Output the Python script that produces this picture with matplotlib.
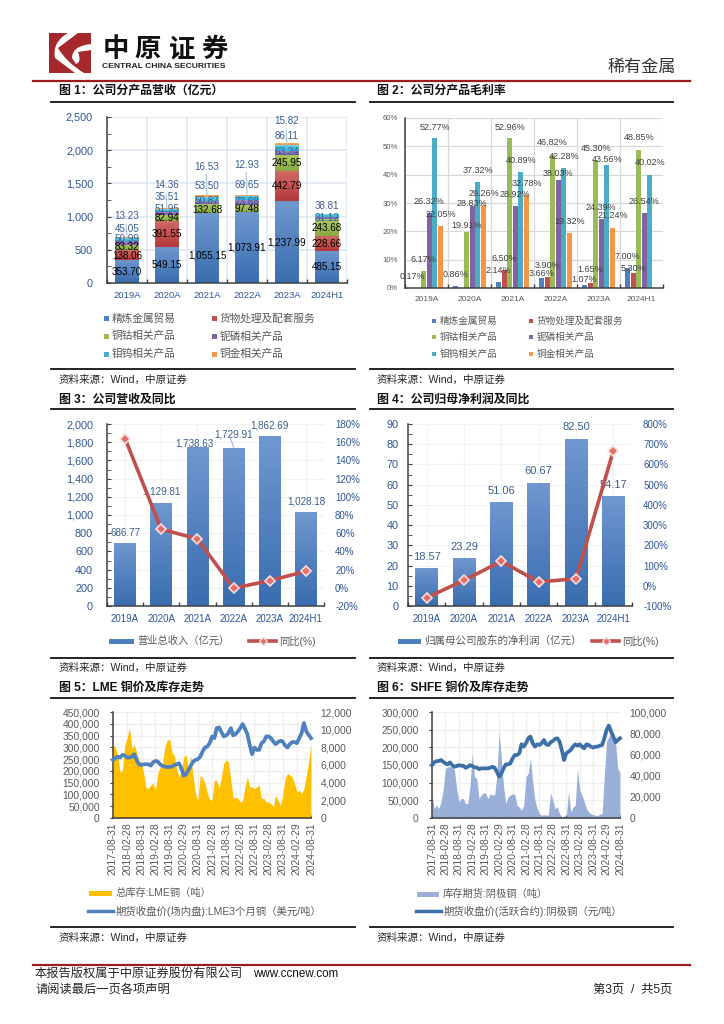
import numpy as np
import matplotlib
matplotlib.use('Agg')
import matplotlib.pyplot as plt
from matplotlib.colors import LinearSegmentedColormap
from matplotlib.patches import Rectangle, PathPatch
from matplotlib.path import Path
from matplotlib.ticker import MultipleLocator, StrMethodFormatter, FixedLocator

plt.rcParams['font.family'] = ['Liberation Sans', 'Noto Sans CJK SC']
plt.rcParams['axes.unicode_minus'] = False

W, H = 724, 1024

# ---- data ----
cats = ['2019A', '2020A', '2021A', '2022A', '2023A', '2024H1']
products = ['精炼金属贸易', '货物处理及配套服务', '铜钴相关产品', '铌磷相关产品', '钼钨相关产品', '铜金相关产品']

rev_trade = [353.70, 549.15, 1055.15, 1073.91, 1237.99, 485.15]
rev_service = [138.06, 391.55, 0, 0, 442.79, 228.66]
rev_cuco = [83.32, 82.94, 132.68, 97.48, 245.95, 243.68]
rev_nbp = [50.99, 51.95, 50.87, 73.68, 63.24, 31.12]
rev_mow = [45.05, 35.51, 53.50, 69.65, 86.11, 38.81]
rev_cuau = [13.23, 14.36, 16.53, 12.93, 15.82, 0]

gm_trade = [0.17, 0.86, 2.14, 3.66, 1.07, 7.00]
gm_service = [np.nan, np.nan, 6.50, 3.90, 1.65, 5.30]
gm_cuco = [6.17, 19.91, 52.96, 46.82, 45.30, 48.85]
gm_nbp = [26.32, 28.83, 28.92, 38.03, 24.39, 26.54]
gm_mow = [52.77, 37.32, 40.89, 42.28, 43.56, 40.02]
gm_cuau = [22.05, 29.26, 32.78, 19.32, 21.24, np.nan]

total_rev = [686.77, 1129.81, 1738.63, 1729.91, 1862.69, 1028.18]
total_rev_yoy = [164, 64.4, 53.8, -0.5, 7.9, 18.2]
net_profit = [18.57, 23.29, 51.06, 60.67, 82.50, 54.17]
net_profit_yoy = [-59, 27, 121, 19, 35, 668]

date_labels = ['2017-08-31', '2018-02-28', '2018-08-31', '2019-02-28', '2019-08-31',
               '2020-02-29', '2020-08-31', '2021-02-28', '2021-08-31', '2022-02-28',
               '2022-08-31', '2023-02-28', '2023-08-31', '2024-02-29', '2024-08-31']

# monthly, thousand tonnes
lme_stock = [310, 300, 265, 195, 205, 310, 340, 385, 295, 312,
             280, 240, 240, 190, 130, 125, 140, 148, 118, 190,
             215, 230, 303, 330, 335, 280, 265, 210, 175, 200,
             260, 268, 205, 265, 175, 105, 75, 182, 170, 148,
             105, 80, 75, 160, 160, 125, 175, 232, 246, 239,
             160, 83, 90, 83, 68, 75, 132, 175, 132, 132,
             125, 132, 140, 83, 83, 68, 68, 60, 47, 97,
             75, 54, 97, 168, 189, 182, 175, 147, 111, 118,
             104, 125, 182, 240, 317]
lme_price = [6570, 6760, 6950, 6840, 7140, 7070, 6840, 6840, 6950, 7220,
             6570, 6080, 6000, 6080, 6080, 6080, 5930, 6310, 6460, 6380,
             6080, 5890, 5810, 5780, 5780, 5810, 6000, 6080, 6190, 5620,
             4790, 4940, 5430, 5930, 6380, 6570, 6650, 6950, 7520, 7980,
             8090, 8470, 9230, 9040, 10180, 10260, 9730, 9230, 9350, 9610,
             10180, 9350, 9500, 9800, 10180, 10640, 10100, 9500, 8280, 7220,
             7980, 7710, 7710, 8470, 8660, 9230, 9230, 9040, 8660, 8360,
             8590, 8740, 8660, 8210, 7980, 8360, 8590, 8590, 8470, 9040,
             9610, 10750, 9800, 9420, 9040]
shfe_stock = [65, 27, 36, 27, 46, 79, 140, 145, 145, 145,
              136, 84, 46, 55, 55, 41, 41, 93, 183, 117,
              112, 55, 65, 72, 69, 55, 69, 65, 66, 121,
              245, 164, 88, 41, 60, 65, 69, 66, 36, 31,
              22, 36, 117, 126, 169, 102, 50, 27, 12, 8,
              9, 8, 9, 72, 50, 27, 31, 12, 3, 6,
              3, 76, 17, 31, 36, 140, 79, 65, 46, 27,
              17, 12, 9, 8, 6, 12, 12, 121, 216, 230,
              240, 230, 216, 140, 130]
shfe_price = [49900, 52500, 53700, 53700, 54700, 53100, 51500, 50600, 52500, 49900,
              48300, 49000, 49900, 49300, 49300, 47400, 48300, 49900, 49000, 47700,
              47700, 46100, 46800, 46800, 46800, 46800, 47400, 48300, 47400, 43600,
              38900, 42000, 46800, 50600, 50600, 51500, 56200, 59400, 59400, 61000,
              69500, 67300, 70500, 75200, 76800, 70500, 67300, 69500, 68900, 70500,
              73600, 69500, 68900, 71400, 72700, 74600, 75200, 72000, 64100, 54700,
              61000, 62600, 64100, 67300, 69500, 68300, 69500, 67300, 65700, 69500,
              68900, 67300, 66400, 67300, 67300, 68300, 68900, 75200, 83100, 87200,
              81500, 76800, 71400, 73600, 75200]

# where the data labels sit, in the chart's own y units
rev_label_y = [[165, 266, 417, 537, 617, 236],
               [405, 738, None, None, 1466, 587],
               [540, 979, 1104, 1120, 1807, 828],
               [668, 1120, 1230, 1220, 1973, 979],
               [818, 1295, 1456, 1471, 2219, 1155],
               [1014, 1476, 1742, 1782, 2435, None]]
gm_label_y = [[4.1, 4.9, 6.2, 5.1, 3.0, 11.2],
              [None, None, 10.3, 7.9, 6.4, 7.0],
              [9.9, 21.9, 56.8, 51.2, 49.2, 53.1],
              [30.4, 29.9, 33.1, 40.4, 28.5, 30.5],
              [56.8, 41.6, 45.1, 46.3, 45.5, 44.2],
              [26.0, 33.4, 36.9, 23.4, 25.6, None]]
total_label_y = [807, 1259, 1791, 1883, 1985, 1149]
total_label_dx = [0, 0, -0.09, 0.0, 0, 0]
profit_label_y = [24.4, 29.4, 57.1, 66.9, 88.5, 60]
profit_label_dx = [0, 0, 0, 0, 0, 0]

TICK_BLUE = '#2f5597'
GRAY = '#595959'
DARK = '#404040'
LABEL_BLUE = '#3b5f8f'
# (top, bottom) of each bar gradient
STACK_COLORS = [('#6f97cf', '#3a6db0'), ('#cf6a66', '#b5393a'), ('#aac765', '#8aa93f'),
                ('#a78fcb', '#7b5ca9'), ('#66d3ea', '#30afd3'), ('#fbb06a', '#f79646')]
FLAT_COLORS = ['#4f81bd', '#c0504d', '#9bbb59', '#8064a2', '#4bacc6', '#f79646']

fig = plt.figure(figsize=(W / 100, H / 100), dpi=100, facecolor='white')


def box(x0, y0, x1, y1):
    # axes from pixel coordinates of the page
    return fig.add_axes([x0 / W, 1 - y1 / H, (x1 - x0) / W, (y1 - y0) / H])


def grad_bars(ax, xs, bottoms, heights, width, top, bot):
    ax.bar(xs, heights, width, bottom=bottoms, color=bot, zorder=2)
    cm = LinearSegmentedColormap.from_list('g', [bot, top])
    g = np.linspace(1, 0, 32).reshape(-1, 1)
    for x, b, h in zip(xs, bottoms, heights):
        if h > 0:
            ax.imshow(g, extent=[x - width / 2, x + width / 2, b, b + h], aspect='auto',
                      cmap=cm, vmin=0, vmax=1, zorder=2.1)


def cat_axis(ax, color, size):
    ax.set_xlim(-0.5, 5.5)
    ax.set_xticks(range(6))
    ax.set_xticklabels(cats, fontsize=size, color=color)
    ax.xaxis.set_minor_locator(FixedLocator(np.arange(-0.5, 6, 1)))
    ax.tick_params(axis='x', which='major', length=0, pad=6)
    ax.tick_params(axis='x', which='minor', direction='in', length=3, color=DARK, width=1)


def clean(ax, grid='#eeeeee', lw=0.9):
    for s in ['top', 'right']:
        ax.spines[s].set_visible(False)
    for s in ['left', 'bottom']:
        ax.spines[s].set_color(DARK)
        ax.spines[s].set_linewidth(1.1)
    ax.set_axisbelow(True)
    if grid:
        ax.grid(True, which='major', color=grid, lw=lw, zorder=0)


# ---- fig 1 ----
ax = box(107, 117, 347, 283)
stack = [rev_trade, rev_service, rev_cuco, rev_nbp, rev_mow, rev_cuau]
bottom = np.zeros(6)
for vals, (top, bot) in zip(stack, STACK_COLORS):
    grad_bars(ax, np.arange(6), bottom, vals, 0.6, top, bot)
    bottom = bottom + np.array(vals)
ax.set_ylim(0, 2500)
clean(ax, None)
ax.hlines([500, 1000, 1500, 2000, 2500], -0.5, 5.5, color='#dce6f2', lw=1.1, zorder=0)
ax.vlines(np.arange(-0.5, 6, 1), 0, 2500, color='#dce6f2', lw=1.1, zorder=0)
cat_axis(ax, TICK_BLUE, 6.8)
ax.yaxis.set_major_locator(MultipleLocator(500))
ax.yaxis.set_minor_locator(MultipleLocator(250))
ax.yaxis.set_major_formatter(StrMethodFormatter('{x:,.0f}'))
ax.tick_params(axis='y', which='both', direction='in', length=3, color=DARK, labelsize=7.8,
               labelcolor=TICK_BLUE, pad=10)
# leader lines to the labels above the bars
for i, y0, y1 in [(0, 685, 880), (1, 1110, 1340), (2, 1310, 1640), (3, 1340, 1660), (4, 2090, 2290)]:
    ax.plot([i, i - 0.02], [y0, y1], color='#a9c4e6', lw=0.8, zorder=1.5)
for vals, ys, col in zip(stack, rev_label_y, ['black', 'black', 'black', LABEL_BLUE, LABEL_BLUE, LABEL_BLUE]):
    for i, (v, y) in enumerate(zip(vals, ys)):
        if y is not None:
            ax.text(i, y, f'{v:,.2f}', ha='center', va='center', fontsize=7.1, color=col, zorder=5,
                    clip_on=False)

# ---- fig 2 ----
ax = box(405, 118, 663, 288)
gm = [gm_trade, gm_service, gm_cuco, gm_nbp, gm_mow, gm_cuau]
for j, vals in enumerate(gm):
    xs = np.arange(6) + (j - 2.5) * 0.131
    ax.bar(xs, vals, 0.115, color=FLAT_COLORS[j], zorder=2)
    for i, (v, y) in enumerate(zip(vals, gm_label_y[j])):
        if y is not None:
            ax.text(xs[i], y, f'{v:.2f}%', ha='center', va='center', fontsize=6.5, color=DARK, zorder=5,
                    clip_on=False)
ax.set_ylim(0, 60)
clean(ax, None)
ax.hlines(range(10, 61, 10), -0.5, 5.5, color='#d9d9d9', lw=0.9, zorder=0)
ax.vlines(np.arange(-0.5, 6, 1), 0, 60, color='#d9d9d9', lw=0.9, zorder=0)
cat_axis(ax, GRAY, 6)
ax.yaxis.set_major_locator(MultipleLocator(10))
ax.yaxis.set_major_formatter(StrMethodFormatter('{x:.0f}%'))
ax.tick_params(axis='y', length=0, labelsize=5.6, labelcolor=GRAY, pad=5)


# ---- fig 3 / 4 ----
def bar_line(ax, bars, yoy, label_y, label_dx, ymax, ystep, yminor, rmin, rmax, rstep, lab_size, fmt, pad):
    grad_bars(ax, np.arange(6), np.zeros(6), bars, 0.6, *STACK_COLORS[0])
    ax.set_ylim(0, ymax)
    clean(ax, '#f2f2f2', 0.8)
    cat_axis(ax, TICK_BLUE, 7)
    ax.yaxis.set_major_locator(MultipleLocator(ystep))
    ax.yaxis.set_minor_locator(MultipleLocator(yminor))
    ax.yaxis.set_major_formatter(StrMethodFormatter('{x:,.0f}'))
    ax.tick_params(axis='y', which='both', direction='in', length=3, color=DARK, labelsize=7.8,
                   labelcolor=TICK_BLUE, pad=pad)
    for i, (v, y, dx) in enumerate(zip(bars, label_y, label_dx)):
        ax.text(i + dx, y, fmt.format(v), ha='center', va='center', fontsize=lab_size, color=LABEL_BLUE, zorder=6,
                clip_on=False)
    r = ax.twinx()
    r.set_xlim(-0.5, 5.5)
    r.set_ylim(rmin, rmax)
    r.yaxis.set_major_locator(MultipleLocator(rstep))
    r.yaxis.set_major_formatter(StrMethodFormatter('{x:.0f}%'))
    r.tick_params(axis='y', length=0, labelsize=7, labelcolor=TICK_BLUE, pad=8)
    for s in r.spines.values():
        s.set_visible(False)
    r.plot(range(6), yoy, color='#c0504d', lw=2.6, marker='D', ms=5.2, mfc='#e46c6c', mec='#f6dedc',
           mew=1.2, zorder=4)


ax = box(107, 424, 324, 606)
bar_line(ax, total_rev, total_rev_yoy, total_label_y, total_label_dx, 2000, 200, 100, -20, 180, 20, 7.1,
         '{:,.2f}', 10)
ax.plot([2.92, 3.0], [1840, 1745], color='#8db0dc', lw=0.7, zorder=3)
ax = box(408, 424, 632, 606)
bar_line(ax, net_profit, net_profit_yoy, profit_label_y, profit_label_dx, 90, 10, 5, -100, 800, 100, 8,
         '{:.2f}', 7)


# ---- fig 5 / 6 ----
def stock_price(ax, stock, price, stock_max, stock_step, price_max, price_step, fill, line):
    xs = np.arange(len(stock))
    ax.fill_between(xs, 0, np.array(stock) * 1000, color=fill, lw=0, zorder=2)
    ax.set_xlim(0, 84)
    ax.set_ylim(0, stock_max)
    clean(ax, '#efefef', 0.9)
    ax.set_xticks(range(0, 85, 6))
    ax.set_xticklabels(date_labels, rotation=90, fontsize=7.4, color=GRAY)
    ax.yaxis.set_major_locator(MultipleLocator(stock_step))
    ax.yaxis.set_major_formatter(StrMethodFormatter('{x:,.0f}'))
    ax.tick_params(axis='x', direction='in', length=2.5, color=DARK, pad=3)
    ax.tick_params(axis='y', direction='out', length=2.5, color=DARK, labelsize=7.4, labelcolor=GRAY, pad=7)
    r = ax.twinx()
    r.set_xlim(0, 84)
    r.set_ylim(0, price_max)
    r.yaxis.set_major_locator(MultipleLocator(price_step))
    r.yaxis.set_major_formatter(StrMethodFormatter('{x:,.0f}'))
    r.tick_params(axis='y', length=0, labelsize=7.4, labelcolor=GRAY, pad=7)
    for s in r.spines.values():
        s.set_visible(False)
    r.plot(xs, price, color=line, lw=2.7, zorder=4, clip_on=False, solid_joinstyle='round')


ax = box(113, 712, 311, 818)
stock_price(ax, lme_stock, lme_price, 450000, 50000, 12000, 2000, '#ffc000', '#4f81bd')
ax = box(432, 712, 620, 818)
stock_price(ax, shfe_stock, shfe_price, 300000, 50000, 100000, 20000, '#9bb0d8', '#3d6fa8')

# ---- page furniture, drawn in page pixels ----
pg = fig.add_axes([0, 0, 1, 1], zorder=20)
pg.set_xlim(0, W)
pg.set_ylim(H, 0)
pg.axis('off')
pg.patch.set_alpha(0)


def txt(x, y, s, size, color='#262626', **kw):
    kw.setdefault('ha', 'left')
    pg.text(x, y, s, fontsize=size, color=color, va='center', **kw)


# logo
pg.add_patch(Rectangle((49, 33), 42, 40, color='#a5282d', lw=0))
swoosh = Path([(68, 33), (52, 42), (55, 58), (75, 73), (84, 73), (66, 62), (58, 48), (78, 33), (68, 33)],
              [Path.MOVETO, Path.CURVE3, Path.CURVE3, Path.LINETO, Path.LINETO, Path.CURVE3, Path.CURVE3,
               Path.LINETO, Path.CLOSEPOLY])
pg.add_patch(PathPatch(swoosh, color='white', lw=0))
arc = Path([(91, 44), (72, 46), (72, 58), (76, 64), (82, 62), (78, 52), (91, 50), (91, 44)],
           [Path.MOVETO, Path.CURVE3, Path.CURVE3, Path.LINETO, Path.CURVE3, Path.CURVE3, Path.LINETO,
            Path.CLOSEPOLY])
pg.add_patch(PathPatch(arc, color='white', lw=0))
for x, ch in zip([116, 148, 182, 214], '中原证券'):
    txt(x, 50, ch, 19, '#111111', weight='bold', ha='center')
txt(102, 67, 'CENTRAL CHINA SECURITIES', 6.1, '#222222', weight='bold')
txt(608, 67, '稀有金属', 12.3, '#333333')
pg.plot([33, 690], [81, 81], color='#9c1c20', lw=1.6)
pg.plot([33, 690], [965, 965], color='#9c1c20', lw=1.6)
txt(35, 974, '本报告版权属于中原证券股份有限公司', 8.8, '#222222')
txt(253, 974, 'www.ccnew.com', 8.4, '#111111')
txt(35, 990, '请阅读最后一页各项声明', 8.8, '#222222')
txt(593, 990, '第3页  /  共5页', 8.8, '#222222')

# section titles and rules
titles = [(59, 91, '图 1：公司分产品营收（亿元）'), (377, 91, '图 2：公司分产品毛利率'),
          (59, 400, '图 3：公司营收及同比'), (377, 400, '图 4：公司归母净利润及同比'),
          (59, 688, '图 5：LME 铜价及库存走势'), (377, 688, '图 6：SHFE 铜价及库存走势')]
for x, y, s in titles:
    txt(x, y, s, 8.6, '#111111', weight='bold')
for y in [102, 369, 409, 658, 698, 927]:
    pg.plot([51, 355], [y, y], color='#111111', lw=1.3)
    pg.plot([370, 673], [y, y], color='#111111', lw=1.3)
for y in [380, 668, 938]:
    txt(59, y, '资料来源：Wind，中原证券', 7.6)
    txt(377, y, '资料来源：Wind，中原证券', 7.6)

# legends
for (j, name), (x, y) in zip(enumerate(products), [(106, 318), (214, 318), (106, 336), (214, 336), (106, 354), (214, 354)]):
    pg.add_patch(Rectangle((x - 2.5, y - 2.5), 5, 5, color=FLAT_COLORS[j], lw=0))
    txt(x + 6, y, name, 7.7, GRAY)
for (j, name), (x, y) in zip(enumerate(products), [(434, 321), (531, 321), (434, 337), (531, 337), (434, 354), (531, 354)]):
    pg.add_patch(Rectangle((x - 2, y - 2), 4, 4, color=FLAT_COLORS[j], lw=0))
    txt(x + 6, y, name, 6.9, GRAY)


def leg_patch(x0, x1, y, color, label, size=7.4):
    pg.add_patch(Rectangle((x0, y - 2.5), x1 - x0, 5, color=color, lw=0))
    txt(x1 + 3.5, y, label, size, GRAY)


def leg_line(x0, x1, y, color, label, marker=False, size=7.4):
    if marker:
        pg.plot([x0, x1], [y, y], color=color, lw=2.6)
        pg.plot([(x0 + x1) / 2], [y], marker='D', ms=4.2, mfc='#e46c6c', mec='#f6dedc', mew=1.0)
    else:
        pg.plot([x0, x1], [y, y], color=color, lw=2.5)
    txt(x1 + 3, y, label, size, GRAY)


leg_patch(109, 134, 641, '#4f81bd', '营业总收入（亿元）')
leg_line(249, 276, 641, '#c0504d', '同比(%)', marker=True)
leg_patch(398, 421, 641, '#4f81bd', '归属母公司股东的净利润（亿元）', 7.6)
leg_line(592, 619, 641, '#c0504d', '同比(%)', marker=True)
leg_patch(89, 112, 893, '#ffc000', '总库存:LME铜（吨）')
leg_line(88, 113, 911, '#4f81bd', '期货收盘价(场内盘):LME3个月铜（美元/吨）', size=7.5)
leg_patch(417, 439, 894, '#9bb0d8', '库存期货:阴极铜（吨）')
leg_line(416, 441, 911, '#3d6fa8', '期货收盘价(活跃合约):阴极铜（元/吨）', size=7.5)

fig.savefig('out.png', dpi=100, facecolor='white')
